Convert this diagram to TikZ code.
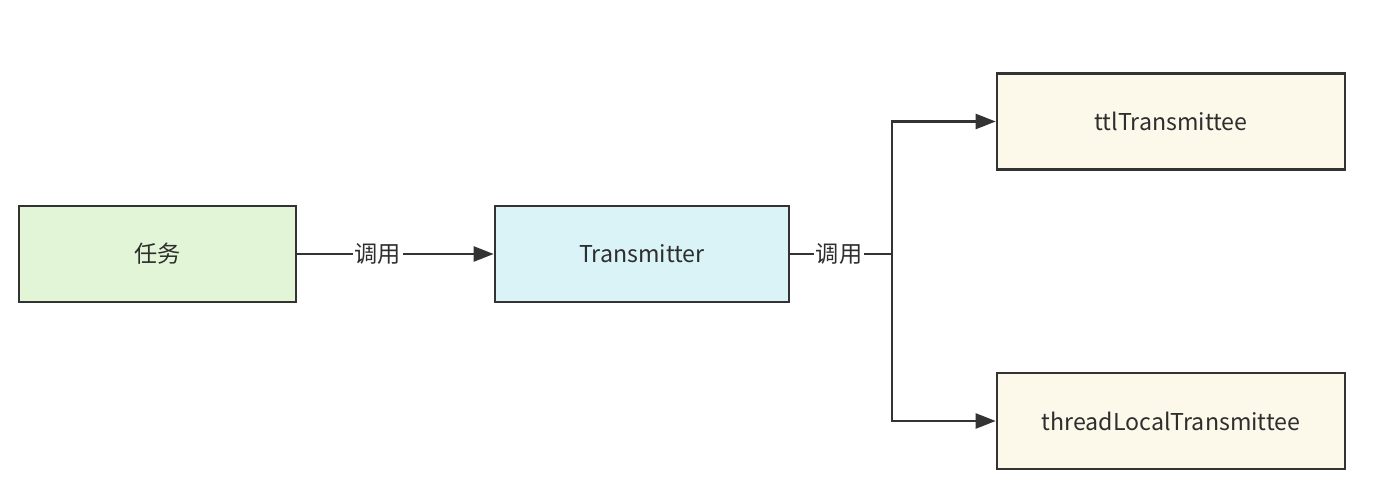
\documentclass[tikz,border=0pt]{standalone}
\usepackage{fontspec}
\setmainfont{Noto Sans CJK SC}
\usetikzlibrary{arrows.meta,positioning}
\definecolor{taskgreen}{RGB}{226,245,215}
\definecolor{transblue}{RGB}{218,243,246}
\definecolor{teecream}{RGB}{252,248,234}
\definecolor{edgegray}{RGB}{51,51,51}

\begin{document}
\begin{tikzpicture}[
    box/.style={draw=edgegray,line width=1.5pt,minimum height=19.2mm,font=\fontsize{13.2}{15}\selectfont,text=edgegray!90!black},
    link/.style={draw=edgegray,line width=1.4pt},
    arr/.style={link,-{Triangle[length=4mm,width=3mm]}},
    lbl/.style={fill=white,inner sep=1pt,font=\fontsize{13.2}{15}\selectfont,text=edgegray!90!black}
  ]
  \useasboundingbox (0,0) rectangle (28,9.84);
  \node[box,fill=taskgreen,minimum width=55.4mm] (task) at (3.15,4.76) {任务};
  \node[box,fill=transblue,minimum width=58.8mm] (trans) at (12.84,4.76) {Transmitter};
  \node[box,fill=teecream,minimum width=69.6mm] (ttl) at (23.42,7.41) {ttlTransmittee};
  \node[box,fill=teecream,minimum width=69.6mm] (tl) at (23.42,1.42) {threadLocalTransmittee};
  \coordinate (split) at (17.84,4.76);
  \draw[arr] (task) -- node[lbl,pos=0.41] {调用} (trans);
  \draw[link] (trans) -- node[lbl,pos=0.48] {调用} (split);
  \draw[arr] (split) |- (ttl);
  \draw[arr] (split) |- (tl);
\end{tikzpicture}
\end{document}
